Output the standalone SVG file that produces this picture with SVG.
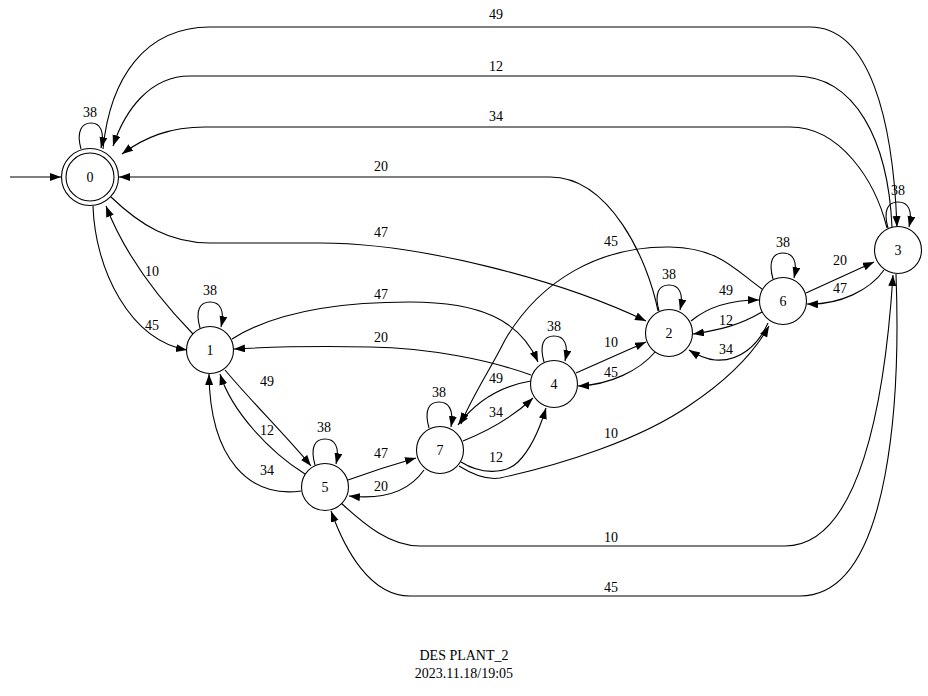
<svg xmlns="http://www.w3.org/2000/svg" width="928" height="696" viewBox="0 0 928 696">
<defs>
<marker id="ah" markerUnits="userSpaceOnUse" markerWidth="12" markerHeight="9" refX="11" refY="4" orient="auto">
<path d="M0,0 L11,4 L0,8 z" fill="#000"/>
</marker>
<style>
.e{fill:none;stroke:#000;stroke-width:1.1;marker-end:url(#ah)}
.n{fill:#fff;stroke:#000;stroke-width:1.1}
</style>
</defs>
<rect width="928" height="696" fill="#fff"/>
<g font-family="Liberation Serif, 'Times New Roman', 'DejaVu Serif', serif" font-size="14" text-anchor="middle" fill="#000">
<g id="edges">
<path class="e" d="M10,177 L61,177"/>
<path class="e" d="M81,149 C76,131 82,123 91,123 C100,123 105,131 101,148"/>
<text x="90" y="117">38</text>
<path class="e" d="M200,328 C195,310 200,302 210,302 C220,302 225,310 221,327"/>
<text x="210" y="295">38</text>
<path class="e" d="M315,465 C310,447 315,439 325,439 C335,439 340,447 336,464"/>
<text x="324" y="432">38</text>
<path class="e" d="M429,428 C424,410 429,402 439,402 C449,402 454,410 451,427"/>
<text x="439" y="397">38</text>
<path class="e" d="M544,362 C539,344 544,336 554,336 C564,336 569,344 565,361"/>
<text x="554" y="331">38</text>
<path class="e" d="M659,311 C654,293 659,285 669,285 C679,285 684,293 680,310"/>
<text x="669" y="279">38</text>
<path class="e" d="M773,279 C768,261 773,253 783,253 C793,253 798,261 794,278"/>
<text x="783" y="247">38</text>
<path class="e" d="M888,228 C883,210 888,202 898,202 C908,202 913,210 909,227"/>
<text x="898" y="195">38</text>
<path class="e" d="M103,149 C110,78 145,27 210,27 L810,27 C870,27 893,120 897,227"/>
<text x="496" y="19">49</text>
<path class="e" d="M892,227 C888,140 855,76 795,76 L190,76 C150,76 125,110 113,146"/>
<text x="496" y="71">12</text>
<path class="e" d="M887,228 C875,180 840,127 790,127 L205,127 C170,127 145,137 122,154"/>
<text x="496" y="121">34</text>
<path class="e" d="M658,311 C648,260 610,177 550,177 L119,177"/>
<text x="381" y="171">20</text>
<path class="e" d="M111,197 C140,225 170,243 210,243 L320,243 C420,243 560,280 646,321"/>
<text x="381" y="237">47</text>
<path class="e" d="M193,334 C160,300 125,255 106,206"/>
<text x="152" y="276">10</text>
<path class="e" d="M93,206 C95,270 130,340 187,350"/>
<text x="152" y="330">45</text>
<path class="e" d="M232,339 C270,315 330,302 410,302 C480,302 520,320 538,362"/>
<text x="381" y="299">47</text>
<path class="e" d="M531,375 C490,360 430,348 370,347 C320,346 270,347 234,349"/>
<text x="381" y="342">20</text>
<path class="e" d="M225,370 C250,400 290,440 311,466"/>
<text x="267" y="386">49</text>
<path class="e" d="M305,474 C270,452 232,412 220,374"/>
<text x="267" y="435">12</text>
<path class="e" d="M301,491 C250,498 210,460 209,374"/>
<text x="267" y="475">34</text>
<path class="e" d="M348,480 C370,472 395,464 416,458"/>
<text x="381" y="458">47</text>
<path class="e" d="M424,470 C410,490 385,500 349,496"/>
<text x="381" y="491">20</text>
<path class="e" d="M531,381 C500,386 477,400 458,425"/>
<text x="496" y="383">49</text>
<path class="e" d="M463,441 C490,430 515,415 533,398"/>
<text x="496" y="417">34</text>
<path class="e" d="M461,462 C480,474 505,475 518,462 C532,448 540,428 546,408"/>
<text x="496" y="462">12</text>
<path class="e" d="M459,466 C475,476 488,480 500,478 C560,465 640,440 690,405 C720,385 750,360 769,326"/>
<text x="611" y="438">10</text>
<path class="e" d="M576,373 L646,342"/>
<text x="611" y="347">10</text>
<path class="e" d="M655,352 C640,370 610,385 578,386"/>
<text x="611" y="377">45</text>
<path class="e" d="M762,289 C735,270 720,248 670,247 C600,246 540,280 505,340 C490,370 470,400 461,424"/>
<text x="611" y="246">45</text>
<path class="e" d="M691,321 C710,305 735,300 759,300"/>
<text x="726" y="295">49</text>
<path class="e" d="M762,312 C740,325 720,330 693,334"/>
<text x="726" y="325">12</text>
<path class="e" d="M768,323 C758,345 740,362 715,360 C705,359 697,355 689,350"/>
<text x="726" y="354">34</text>
<path class="e" d="M806,293 L874,262"/>
<text x="840" y="265">20</text>
<path class="e" d="M884,270 C870,290 840,305 807,304"/>
<text x="840" y="293">47</text>
<path class="e" d="M341,503 C365,525 390,546 420,546 L785,546 C860,546 885,400 893,275"/>
<text x="611" y="542">10</text>
<path class="e" d="M896,274 C900,380 895,596 800,596 L410,596 C370,596 345,550 331,511"/>
<text x="611" y="592">45</text>
</g>
<g id="node0">
<circle class="n" cx="90" cy="177" r="28.5"/>
<circle class="n" cx="90" cy="177" r="24"/>
<text x="90" y="182">0</text>
</g>
<g id="node1">
<circle class="n" cx="210" cy="350" r="23.5"/>
<text x="210" y="355">1</text>
</g>
<g id="node2">
<circle class="n" cx="669" cy="333" r="23.5"/>
<text x="669" y="338">2</text>
</g>
<g id="node3">
<circle class="n" cx="898" cy="250" r="23.5"/>
<text x="898" y="255">3</text>
</g>
<g id="node4">
<circle class="n" cx="554" cy="384" r="23.5"/>
<text x="554" y="389">4</text>
</g>
<g id="node5">
<circle class="n" cx="325" cy="487" r="23.5"/>
<text x="325" y="492">5</text>
</g>
<g id="node6">
<circle class="n" cx="783" cy="301" r="23.5"/>
<text x="783" y="306">6</text>
</g>
<g id="node7">
<circle class="n" cx="440" cy="450" r="23.5"/>
<text x="440" y="455">7</text>
</g>
<g id="title">
<text x="464" y="660">DES PLANT_2</text>
<text x="464" y="678">2023.11.18/19:05</text>
</g>
</g>
</svg>
